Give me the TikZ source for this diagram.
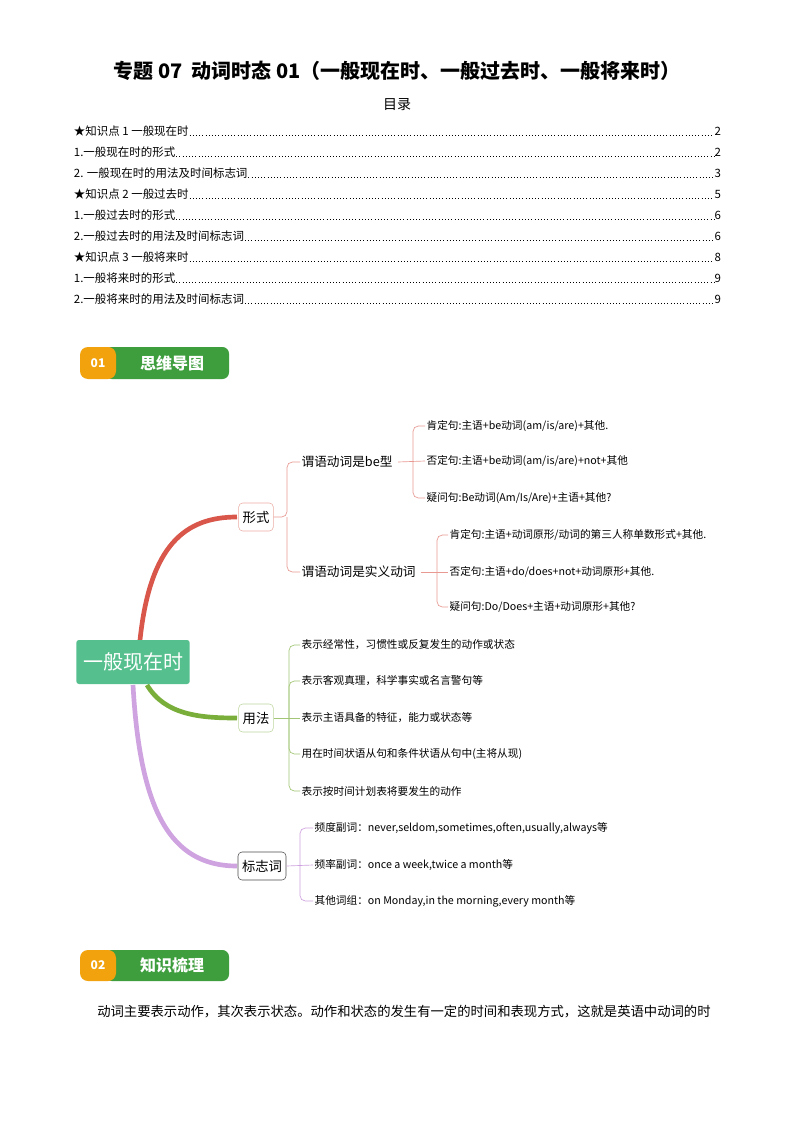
\documentclass[tikz,border=0pt]{standalone}
\usepackage{fontspec}
\setmainfont{Noto Sans CJK SC}
\definecolor{cred}{HTML}{D9574A}
\definecolor{cgreen}{HTML}{7AAE3A}
\definecolor{cpurple}{HTML}{CFA3E0}
\definecolor{croot}{HTML}{55C08E}
\definecolor{bgreen}{HTML}{3E9E3E}
\definecolor{borange}{HTML}{F2A20C}
\begin{document}
\begin{tikzpicture}[x=0.75pt,y=-0.75pt,
  leaf/.style={anchor=west,font=\fontsize{8}{9}\selectfont,inner sep=1pt},
  mid/.style={anchor=west,font=\fontsize{9.5}{11}\selectfont,inner sep=1pt},
  br/.style={draw,rounded corners=3pt,font=\fontsize{10}{12}\selectfont,minimum height=21pt,inner sep=3pt,fill=white},
  toc/.style={anchor=west,font=\fontsize{8.6}{10}\selectfont,inner sep=0.5pt},
  pg/.style={anchor=east,font=\fontsize{8.6}{10}\selectfont,inner sep=0.5pt},
  lead/.style={dotted,line width=0.4pt},
  thin/.style={line width=0.5pt,rounded corners=4pt}]
\useasboundingbox (0,0) rectangle (794,1123);
\fill[white] (0,0) rectangle (794,1123);
\node[font=\bfseries\fontsize{15}{18}\selectfont] (title) at (397,71) {专题 07\ \ 动词时态 01（一般现在时、一般过去时、一般将来时）};
\node[font=\fontsize{10.5}{12}\selectfont] (mulu) at (397,105) {目录};
\foreach \i/\t/\p [count=\k] in {131/★知识点 1 一般现在时/2,152/1.一般现在时的形式/2,173/2. 一般现在时的用法及时间标志词/3,194/★知识点 2 一般过去时/5,215/1.一般过去时的形式/6,236/2.一般过去时的用法及时间标志词/6,257/★知识点 3 一般将来时/8,278/1.一般将来时的形式/9,299/2.一般将来时的用法及时间标志词/9}{
  \node[toc] (t\k) at (73,\i) {\t};
  \node[pg] (p\k) at (722,\i) {\p};
  \draw[lead] ([yshift=-3pt]t\k.east) -- ([yshift=-3pt]p\k.west);
}
% badge 01
\fill[bgreen,rounded corners=5pt] (105,347) rectangle (229,379);
\fill[borange,rounded corners=6pt] (80,379) -- (80,347) -- (116,347) -- (116,379) -- cycle;
\node[text=white,font=\bfseries\fontsize{9}{10}\selectfont] (b1n) at (98,363) {01};
\node[text=white,font=\bfseries\fontsize{12}{14}\selectfont] (b1t) at (172,363) {思维导图};
% badge 02
\fill[bgreen,rounded corners=5pt] (105,950) rectangle (229,981);
\fill[borange,rounded corners=6pt] (80,981) -- (80,950) -- (116,950) -- (116,981) -- cycle;
\node[text=white,font=\bfseries\fontsize{9}{10}\selectfont] (b2n) at (98,965) {02};
\node[text=white,font=\bfseries\fontsize{12}{14}\selectfont] (b2t) at (172,965) {知识梳理};
% curves
\coordinate (rt) at (140,640);
\coordinate (rb1) at (147,685);
\coordinate (rb2) at (133,685);
\draw[line width=3.5pt,cred] (rt) .. controls (150,545) and (185,517) .. (237,517);
\draw[line width=3.5pt,cgreen] (rb1) .. controls (165,715) and (200,718) .. (237,718);
\draw[line width=3.5pt,cpurple] (rb2) .. controls (140,810) and (170,866) .. (237,866);
\node[fill=croot,text=white,rounded corners=2pt,font=\fontsize{15}{18}\selectfont,minimum height=33pt,inner xsep=5pt] (root) at (133,662) {一般现在时};
\node[br,draw=cred!50] (xs) at (256,517) {形式};
\node[br,draw=cgreen!50] (yf) at (256,718) {用法};
\node[br,draw=black!70] (bz) at (262,866) {标志词};
% 形式 branch
\node[mid] (be) at (300,462) {谓语动词是be型};
\node[mid] (sy) at (300,572) {谓语动词是实义动词};
\draw[thin,cred!60] (xs.east) -- (287,517) |- (be.west);
\draw[thin,cred!60] (287,517) |- (sy.west);
\node[leaf] (a1) at (425,426) {肯定句:主语+be动词(am/is/are)+其他.};
\node[leaf] (a2) at (425,461) {否定句:主语+be动词(am/is/are)+not+其他};
\node[leaf] (a3) at (425,498) {疑问句:Be动词(Am/Is/Are)+主语+其他?};
\draw[thin,cred!60] (be.east) ++(4,0) -- (a2.west);
\draw[thin,cred!60] (413,461) |- (a1.west);
\draw[thin,cred!60] (413,461) |- (a3.west);
\node[leaf] (c1) at (448,535) {肯定句:主语+动词原形/动词的第三人称单数形式+其他.};
\node[leaf] (c2) at (448,572) {否定句:主语+do/does+not+动词原形+其他.};
\node[leaf] (c3) at (448,607) {疑问句:Do/Does+主语+动词原形+其他?};
\draw[thin,cred!60] (sy.east) ++(4,0) -- (c2.west);
\draw[thin,cred!60] (437,572) |- (c1.west);
\draw[thin,cred!60] (437,572) |- (c3.west);
% 用法 branch
\node[leaf] (u1) at (300,645) {表示经常性，习惯性或反复发生的动作或状态};
\node[leaf] (u2) at (300,681) {表示客观真理，科学事实或名言警句等};
\node[leaf] (u3) at (300,718) {表示主语具备的特征，能力或状态等};
\node[leaf] (u4) at (300,754) {用在时间状语从句和条件状语从句中(主将从现)};
\node[leaf] (u5) at (300,791) {表示按时间计划表将要发生的动作};
\draw[thin,cgreen!70] (yf.east) -- (u3.west);
\foreach \n in {u1,u2,u4,u5}{\draw[thin,cgreen!70] (289,718) |- (\n.west);}
% 标志词 branch
\node[leaf] (m1) at (313,828) {频度副词：never,seldom,sometimes,often,usually,always等};
\node[leaf] (m2) at (313,865) {频率副词：once a week,twice a month等};
\node[leaf] (m3) at (313,901) {其他词组：on Monday,in the morning,every month等};
\draw[thin,cpurple] (bz.east) -- (m2.west);
\foreach \n in {m1,m3}{\draw[thin,cpurple] (300,865) |- (\n.west);}
\node[anchor=west,font=\fontsize{10}{12}\selectfont,inner sep=0pt] (para) at (97,1012) {动词主要表示动作，其次表示状态。动作和状态的发生有一定的时间和表现方式，这就是英语中动词的时};
\end{tikzpicture}
\end{document}
